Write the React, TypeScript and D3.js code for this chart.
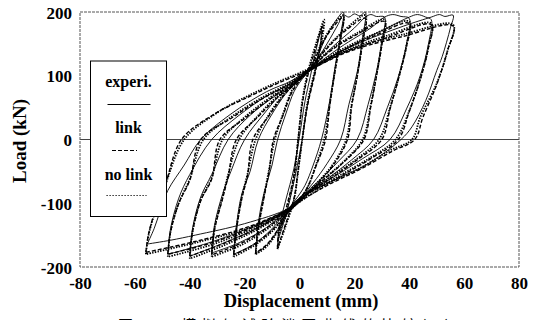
import React, { useEffect, useRef } from 'react';
import * as d3 from 'd3';

type Pt = [number, number];

const xTicks = [-80, -60, -40, -20, 0, 20, 40, 60, 80];
const yTicks = [-200, -100, 0, 100, 200];
const legendLabels = ['experi.', 'link', 'no link'];

// experimental loops (solid)
const experiLoops: Pt[][] = [
  [[-8,-160],[-7,-130],[-5,-95],[-2,-45],[0,5],[2,60],[4,100],[6,140],[8,172],[7.5,145],[5,95],[2.5,45],[1,0],[-1,-45],[-3,-85],[-5,-120],[-8,-160]],
  [[-16,-178],[-15,-130],[-13,-85],[-10,-40],[-8,0],[-5,40],[-2,75],[1,95],[5,115],[9,155],[13,185],[16,200],[15,165],[13,115],[11,60],[8,0],[5,-40],[2,-72],[-1,-92],[-5,-115],[-9,-150],[-13,-170],[-16,-178]],
  [[-24,-180],[-23,-135],[-21,-85],[-18,-50],[-15,0],[-10,40],[-5,72],[-1,90],[4,110],[10,150],[14,180],[16,195],[18,192],[20,197],[22,194],[24,200],[23,160],[21,105],[18,55],[15,0],[10,-38],[5,-68],[1,-88],[-4,-108],[-10,-140],[-17,-165],[-24,-180]],
  [[-32,-178],[-31,-135],[-28,-85],[-25,-50],[-20,0],[-13,40],[-7,70],[-1,90],[4,110],[12,145],[20,175],[24,192],[26,196],[28,193],[31,192],[30,155],[28,105],[25,55],[21,0],[14,-35],[7,-65],[1,-88],[-4,-108],[-12,-138],[-22,-162],[-32,-178]],
  [[-40,-183],[-39,-140],[-36,-90],[-32,-55],[-26,0],[-18,38],[-9,68],[-2,88],[4,110],[15,145],[26,175],[31,192],[34,196],[37,193],[40,190],[39,150],[36,98],[32,50],[27,0],[19,-32],[10,-62],[1,-88],[-4,-108],[-15,-138],[-28,-163],[-40,-183]],
  [[-48,-180],[-47,-140],[-44,-92],[-40,-55],[-32,0],[-22,38],[-12,68],[-3,88],[4,110],[18,145],[32,175],[40,192],[43,196],[46,192],[48,188],[47,150],[44,100],[39,48],[33,0],[23,-30],[12,-60],[1,-88],[-4,-108],[-18,-138],[-33,-162],[-48,-180]],
  [[-55.5,-164],[-53,-140],[-51,-115],[-48,-80],[-42,-40],[-36,0],[-25,40],[-12,75],[-3,92],[4,112],[20,148],[38,178],[48,192],[51,196],[53,193],[56,195],[55,175],[52,130],[50,108],[46,61],[41,20],[37,0],[25,-38],[12,-65],[1,-90],[-4,-108],[-20,-132],[-38,-150],[-47,-158],[-55.5,-164]],
];

// model with link (dashed)
const linkLoops: Pt[][] = [
  [[-8,-170],[-7.5,-145],[-5,-110],[-2,-55],[-0.5,0],[1,55],[3,100],[6,145],[8.5,180],[8,160],[6,110],[3,55],[1,0],[-0.5,-48],[-2,-92],[-5,-132],[-8,-170]],
  [[-16,-178],[-15,-138],[-13,-92],[-11,-48],[-9.5,0],[-6,38],[-3,72],[0,92],[4,112],[8,148],[12,175],[16,192],[15,158],[13,108],[11,52],[9.5,0],[6,-42],[3,-74],[0,-94],[-4,-113],[-8,-142],[-12,-165],[-16,-178]],
  [[-24,-181],[-23,-142],[-21,-92],[-19,-58],[-17,0],[-11,38],[-6,68],[-2,86],[3,106],[9,138],[16,168],[24,190],[23,152],[21,98],[19,52],[17.5,0],[12,-42],[6,-72],[2,-90],[-3,-108],[-9,-138],[-16,-163],[-24,-181]],
  [[-32,-181],[-31,-142],[-28,-92],[-26,-58],[-23,0],[-15,36],[-8,66],[-2,86],[3,106],[11,138],[21,165],[31,185],[30,148],[28,98],[26,52],[23.5,0],[16,-36],[8,-66],[2,-88],[-3,-107],[-11,-136],[-21,-162],[-32,-181]],
  [[-40,-183],[-39,-145],[-36,-96],[-32,-62],[-29,0],[-20,33],[-11,63],[-3,86],[3,106],[14,136],[27,162],[40,182],[39,146],[36,94],[33,48],[30,0],[21,-32],[11,-62],[2,-88],[-3,-107],[-14,-136],[-27,-162],[-40,-183]],
  [[-48,-180],[-47,-145],[-44,-100],[-40,-64],[-36,0],[-25,33],[-14,63],[-4,86],[3,106],[16,136],[32,160],[48,180],[47,144],[44,94],[40,44],[36,0],[26,-30],[14,-60],[2,-88],[-3,-107],[-16,-136],[-32,-162],[-48,-180]],
  [[-56,-177],[-55,-148],[-52,-104],[-49,-72],[-43,0],[-31,40],[-18,68],[-8,88],[3,108],[18,138],[38,162],[56,178],[54,140],[50,86],[45,35],[42,0],[34,-18],[22,-47],[11,-70],[2,-92],[-4,-109],[-18,-136],[-38,-160],[-56,-177]],
];

// model without link (dotted)
const noLinkLoops: Pt[][] = [
  [[-8,-172],[-7.5,-150],[-5,-115],[-2,-60],[-0.5,0],[1,60],[3,105],[6,150],[9,188],[8.5,165],[6,115],[3,60],[1,0],[-0.5,-50],[-2,-95],[-5,-135],[-8,-172]],
  [[-16,-180],[-15,-140],[-13,-90],[-11,-45],[-9,0],[-6,40],[-3,75],[0,95],[4,115],[8,150],[12,178],[16,195],[15,160],[13,110],[11,55],[9,0],[6,-40],[3,-75],[0,-95],[-4,-115],[-8,-145],[-12,-168],[-16,-180]],
  [[-24,-184],[-23,-140],[-21,-90],[-19,-55],[-16,0],[-11,40],[-6,70],[-2,88],[3,108],[9,140],[16,170],[24,195],[23,155],[21,100],[19,55],[17,0],[12,-40],[6,-70],[2,-88],[-3,-108],[-9,-140],[-16,-165],[-24,-184]],
  [[-32,-184],[-31,-140],[-28,-90],[-26,-55],[-22,0],[-15,38],[-8,68],[-2,88],[3,108],[11,140],[21,167],[31,188],[30,150],[28,100],[26,55],[23,0],[16,-35],[8,-65],[2,-88],[-3,-108],[-11,-138],[-21,-165],[-32,-184]],
  [[-40,-187],[-39,-145],[-36,-95],[-32,-60],[-28,0],[-20,35],[-11,65],[-3,88],[3,108],[14,138],[27,165],[40,185],[39,148],[36,95],[33,50],[29,0],[21,-30],[11,-60],[2,-88],[-3,-108],[-14,-138],[-27,-165],[-40,-187]],
  [[-48,-184],[-47,-145],[-44,-100],[-40,-62],[-35,0],[-25,35],[-14,65],[-4,88],[3,108],[16,138],[32,163],[48,182],[47,145],[44,95],[40,45],[35,0],[26,-28],[14,-58],[2,-88],[-3,-108],[-16,-138],[-32,-165],[-48,-184]],
  [[-56,-180],[-55,-150],[-52,-105],[-49,-72],[-42,0],[-30,42],[-18,70],[-8,90],[3,110],[18,140],[38,165],[56,180],[54,140],[50,88],[44,35],[41,0],[33,-17],[22,-45],[11,-68],[2,-92],[-4,-110],[-18,-138],[-38,-162],[-56,-180]],
];

const serif = '"Liberation Serif", "Times New Roman", serif';

const App: React.FC = () => {
  const svgRef = useRef<SVGSVGElement>(null);
  const width = 533;
  const height = 320;

  useEffect(() => {
    if (!svgRef.current) return;
    const svg = d3.select(svgRef.current);
    svg.selectAll('*').remove();

    const left = 80, right = 519, top = 12, bottom = 267;
    const x = d3.scaleLinear().domain([-80, 80]).range([left, right]);
    const y = d3.scaleLinear().domain([-200, 200]).range([bottom, top]);

    // zero line
    svg.append('line')
      .attr('x1', left).attr('x2', right)
      .attr('y1', y(0)).attr('y2', y(0))
      .attr('stroke', '#444').attr('stroke-width', 1);

    const line = d3.line<Pt>()
      .x(d => x(d[0]))
      .y(d => y(d[1]))
      .curve(d3.curveCatmullRom.alpha(0.5));

    const series = [
      { loops: noLinkLoops, dash: '1.4,1.3', w: 1.8 },
      { loops: linkLoops, dash: '4,2', w: 1.4 },
      { loops: experiLoops, dash: null, w: 0.9 },
    ];

    series.forEach(s => {
      svg.append('g').selectAll('path')
        .data(s.loops)
        .enter().append('path')
        .attr('d', d => line(d) || '')
        .attr('fill', 'none')
        .attr('stroke', '#000')
        .attr('stroke-width', s.w)
        .attr('stroke-dasharray', s.dash);
    });

    // frame
    svg.append('rect')
      .attr('x', left).attr('y', top)
      .attr('width', right - left).attr('height', bottom - top)
      .attr('fill', 'none')
      .attr('stroke', '#555')
      .attr('stroke-width', 1)
      .attr('stroke-dasharray', '3,1');

    // Y axis labels
    const yAxis = svg.append('g')
      .attr('transform', `translate(${left},0)`)
      .call(d3.axisLeft(y).tickValues(yTicks).tickSize(0).tickPadding(8).tickFormat(d => String(d)));
    yAxis.select('.domain').remove();
    yAxis.selectAll('text')
      .attr('dy', '0.36em')
      .style('font-family', serif)
      .style('font-size', '17px')
      .style('font-weight', 'bold')
      .style('fill', '#000');

    // X axis labels
    const xAxis = svg.append('g')
      .attr('transform', `translate(0,${bottom})`)
      .call(d3.axisBottom(x).tickValues(xTicks).tickSize(0).tickPadding(10).tickFormat(d => String(d)));
    xAxis.select('.domain').remove();
    xAxis.selectAll('text')
      .style('font-family', serif)
      .style('font-size', '17px')
      .style('font-weight', 'bold')
      .style('fill', '#000');

    // axis titles
    svg.append('text')
      .attr('x', 301).attr('y', 307)
      .attr('text-anchor', 'middle')
      .style('font-family', serif)
      .style('font-size', '18.5px')
      .style('font-weight', 'bold')
      .text('Displacement (mm)');

    svg.append('text')
      .attr('transform', `translate(26,141) rotate(-90)`)
      .attr('text-anchor', 'middle')
      .style('font-family', serif)
      .style('font-size', '19px')
      .style('font-weight', 'bold')
      .text('Load (kN)');

    // legend
    const lg = svg.append('g');
    lg.append('rect')
      .attr('x', 90.5).attr('y', 61)
      .attr('width', 76).attr('height', 155.5)
      .attr('fill', '#fff')
      .attr('stroke', '#000')
      .attr('stroke-width', 1);

    const legendRows = [
      { ty: 87, ly: 104.5, x1: 107.5, x2: 150.5, dash: null, w: 1 },
      { ty: 133, ly: 150.5, x1: 112, x2: 137, dash: '4,2', w: 1 },
      { ty: 180, ly: 195.5, x1: 106.5, x2: 146.5, dash: '1.2,1.8', w: 1.2 },
    ];
    legendRows.forEach((r, i) => {
      lg.append('text')
        .attr('x', 128.5).attr('y', r.ty)
        .attr('text-anchor', 'middle')
        .style('font-family', serif)
        .style('font-size', '16px')
        .style('font-weight', 'bold')
        .text(legendLabels[i]);
      lg.append('line')
        .attr('x1', r.x1).attr('x2', r.x2)
        .attr('y1', r.ly).attr('y2', r.ly)
        .attr('stroke', '#000')
        .attr('stroke-width', r.w)
        .attr('stroke-dasharray', r.dash);
    });

    // caption, cut off at the bottom edge
    svg.append('text')
      .attr('x', 118).attr('y', 331)
      .style('font-family', '"Noto Sans CJK SC", sans-serif')
      .style('font-size', '15px')
      .style('letter-spacing', '5px')
      .text('图 10  模拟与试验滞回曲线的比较(4)');
  }, []);

  return (
    <svg
      ref={svgRef}
      width={width}
      height={height}
      style={{ position: 'absolute', left: 0, top: 0, background: '#fff' }}
    />
  );
};

export default App;
